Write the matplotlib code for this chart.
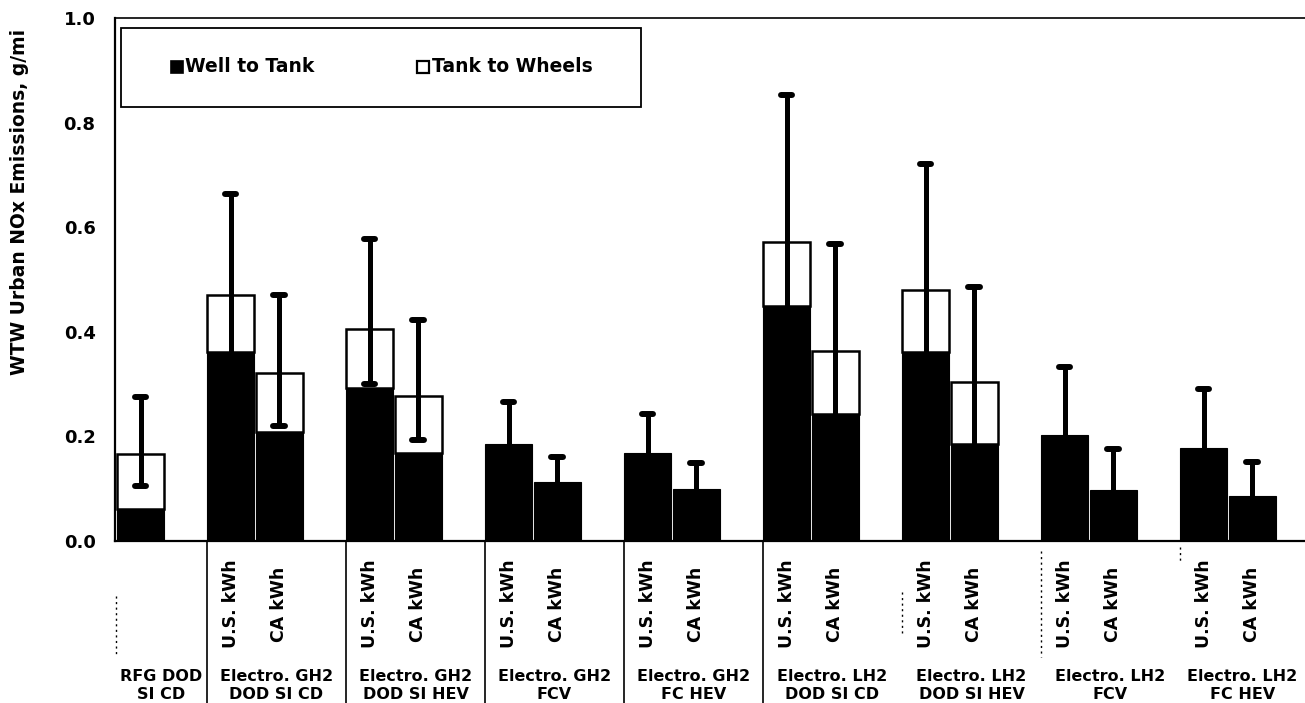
import matplotlib
matplotlib.use("Agg")
import matplotlib.pyplot as plt
import matplotlib.transforms as mtransforms
from matplotlib.patches import Rectangle
import numpy as np

plt.rcParams['font.family'] = ['DejaVu Sans']
plt.rcParams['font.weight'] = 'bold'

# ---- data -------------------------------------------------------------
pathway_top = ["RFG DOD", "Electro. GH2", "Electro. GH2", "Electro. GH2", "Electro. GH2",
               "Electro. LH2", "Electro. LH2", "Electro. LH2", "Electro. LH2"]
pathway_bottom = ["SI CD", "DOD SI CD", "DOD SI HEV", "FCV", "FC HEV",
                  "DOD SI CD", "DOD SI HEV", "FCV", "FC HEV"]
grid_labels = ["U.S. kWh", "CA kWh"]
yticks = [0.0, 0.2, 0.4, 0.6, 0.8, 1.0]

# RFG baseline vehicle (single bar)
rfg_wtt = 0.061
rfg_total = 0.166
rfg_err_low = 0.105
rfg_err_high = 0.276

# hydrogen pathways, U.S. average electricity
us_wtt = [0.362, 0.292, 0.185, 0.168, 0.450, 0.361, 0.202, 0.178]
us_total = [0.470, 0.405, 0.185, 0.168, 0.572, 0.479, 0.202, 0.178]
us_err_low = [0.350, 0.300, 0.140, 0.120, 0.420, 0.340, 0.130, 0.110]
us_err_high = [0.663, 0.577, 0.265, 0.242, 0.853, 0.720, 0.332, 0.290]

# hydrogen pathways, California electricity
ca_wtt = [0.209, 0.168, 0.112, 0.100, 0.242, 0.186, 0.0975, 0.086]
ca_total = [0.321, 0.278, 0.112, 0.100, 0.364, 0.304, 0.0975, 0.086]
ca_err_low = [0.220, 0.193, 0.080, 0.070, 0.200, 0.160, 0.060, 0.050]
ca_err_high = [0.470, 0.423, 0.160, 0.149, 0.567, 0.485, 0.175, 0.152]

# ---- layout -------------------------------------------------------------
W, H = 1305, 703
fig = plt.figure(figsize=(W / 100, H / 100), dpi=100)
ax_left_px, ax_right_px, ax_top_px, ax_bot_px = 115, 1305, 18, 541
ax = fig.add_axes([ax_left_px / W, (H - ax_bot_px) / H,
                   (ax_right_px - ax_left_px) / W, (ax_bot_px - ax_top_px) / H])

px_per_unit = 139.0
x0 = 0.338
x1 = x0 + (ax_right_px - ax_left_px) / px_per_unit
ax.set_xlim(x0, x1)
ax.set_ylim(0, 1.0)

bw = 0.338
us_off = 0.0
ca_off = 0.349

cats = np.arange(1, 9)
us_x = cats + us_off
ca_x = cats + ca_off
rfg_x = 0 + ca_off + 0.004

def stacked(xs, wtt, total):
    wtt = np.asarray(wtt, float)
    total = np.asarray(total, float)
    ax.bar(xs, wtt, width=bw, align='edge', color='black', edgecolor='black',
           linewidth=0.8, zorder=2)
    ttw = total - wtt
    m = ttw > 1e-6
    ax.bar(np.asarray(xs)[m], ttw[m], bottom=wtt[m], width=bw, align='edge',
           color='white', edgecolor='black', linewidth=1.8, zorder=2)

stacked([rfg_x], [rfg_wtt], [rfg_total])
stacked(us_x, us_wtt, us_total)
stacked(ca_x, ca_wtt, ca_total)

def errs(xc, lo, hi):
    xc = np.asarray(xc, float)
    ax.vlines(xc, lo, hi, colors='black', linewidth=3.6, zorder=3)
    cap = 0.04
    for y in (lo, hi):
        lc = ax.hlines(y, xc - cap, xc + cap, colors='black', linewidth=4.3, zorder=3)
        lc.set_capstyle('round')

errs([rfg_x + bw / 2], [rfg_err_low], [rfg_err_high])
errs(us_x + bw / 2, us_err_low, us_err_high)
errs(ca_x + bw / 2, ca_err_low, ca_err_high)

# ---- axes styling -------------------------------------------------------
for s in ('left', 'bottom'):
    ax.spines[s].set_linewidth(1.6)
ax.spines['top'].set_linewidth(1.2)
ax.spines['right'].set_visible(False)
ax.set_xticks([])
ax.set_yticks(yticks)
ax.set_yticklabels([f"{t:.1f}" for t in yticks], fontsize=13, fontweight='bold')
ax.tick_params(axis='y', length=0, pad=14)

fig.text(20 / W, 1 - 202 / H, "WTW Urban NOx Emissions, g/mi", rotation=90,
         ha='center', va='center', fontsize=13.5, fontweight='bold')

# ---- category axis below the plot ---------------------------------------
trans = mtransforms.blended_transform_factory(ax.transData, ax.transAxes)
ax_h = ax_bot_px - ax_top_px
def ya(py):
    return (ax_bot_px - py) / ax_h

bottom_edge = ya(H)
for b in range(1, 6):
    ax.plot([b, b], [0, bottom_edge], color='black', linewidth=1.2,
            transform=trans, clip_on=False)
for b, (ya0, ya1) in zip([6, 7, 8, x0 + 0.01], [(592, 635), (551, 657), (547, 563), (596, 657)]):
    ax.plot([b, b], [ya(ya0), ya(ya1)], color='black', linewidth=1.0,
            linestyle=(0, (1.5, 2.5)), transform=trans, clip_on=False)

for i in cats:
    ax.text(i + us_off + bw / 2, ya(604), grid_labels[0], rotation=90, ha='center',
            va='center', fontsize=12.5, fontweight='bold', transform=trans)
    ax.text(i + ca_off + bw / 2, ya(604), grid_labels[1], rotation=90, ha='center',
            va='center', fontsize=12.5, fontweight='bold', transform=trans)

centers = [(x0 + 1) / 2] + [i + 0.5 for i in range(1, 8)] + [(8 + x1) / 2]
for c, top, bot in zip(centers, pathway_top, pathway_bottom):
    ax.text(c, ya(681), top, ha='center', va='baseline', fontsize=11.5,
            fontweight='bold', transform=trans)
    ax.text(c, ya(699), bot, ha='center', va='baseline', fontsize=11.5,
            fontweight='bold', transform=trans)

# ---- legend box ---------------------------------------------------------
def xa(px):
    return (px - ax_left_px) / (ax_right_px - ax_left_px)

ax.add_patch(Rectangle((xa(121), ya(107)), xa(641) - xa(121), ya(28) - ya(107),
                       transform=ax.transAxes, facecolor='white', edgecolor='black',
                       linewidth=1.3, zorder=5))
sq = 12
ax.add_patch(Rectangle((xa(171), ya(67 + sq / 2)), xa(171 + sq) - xa(171), ya(67 - sq / 2) - ya(67 + sq / 2),
                       transform=ax.transAxes, facecolor='black', edgecolor='black',
                       linewidth=1.2, zorder=6))
ax.add_patch(Rectangle((xa(417), ya(67 + sq / 2)), xa(417 + sq) - xa(417), ya(67 - sq / 2) - ya(67 + sq / 2),
                       transform=ax.transAxes, facecolor='white', edgecolor='black',
                       linewidth=1.6, zorder=6))
ax.text(xa(185), ya(67), "Well to Tank", transform=ax.transAxes, ha='left', va='center',
        fontsize=13.5, fontweight='bold', zorder=7)
ax.text(xa(432), ya(67), "Tank to Wheels", transform=ax.transAxes, ha='left', va='center',
        fontsize=13.5, fontweight='bold', zorder=7)

fig.savefig("out.png", dpi=100)
